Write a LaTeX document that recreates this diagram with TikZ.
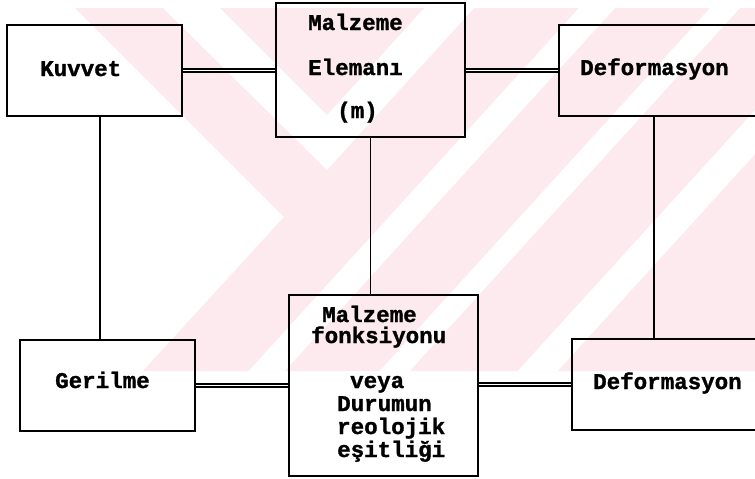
\documentclass[tikz,border=0pt]{standalone}
\usepackage{fontspec}
\newfontfamily\lblfont[UprightFont={* Bold}, FakeBold=1.2]{Liberation Mono}
\definecolor{wm}{RGB}{252,234,238}
\tikzset{
  box/.style={draw, line width=1.7pt, inner sep=0pt},
  lbl/.style={font=\lblfont\fontsize{22.5}{22.5}\selectfont, inner sep=0pt, anchor=base west},
  link/.style={line width=1.3pt},
  dlink/.style={double, double distance=1.8pt, line width=1.4pt},
  wmark/.style={fill=wm, draw=none},
  wgap/.style={fill=white, draw=none},
}
\begin{document}
\begin{tikzpicture}[x=1pt, y=-1pt]
\useasboundingbox (0,0) rectangle (755,479);
\clip (0,0) rectangle (755,479);
\fill[white] (0,0) rectangle (755,479);

% faint background emblem
\fill[wmark] (75,8) -- (755,8) -- (755,371) -- (143,371) -- (284,217) -- cycle;
\begin{scope}
  \clip (75,8) -- (755,8) -- (755,371) -- (143,371) -- (284,217) -- cycle;
  \fill[wgap] (163,8) -- (474,8) -- (327,170) -- cycle;
  \fill[wmark] (220,8) -- (424,8) -- (327,115) -- cycle;
  \foreach \xo/\hw in {597/18, 725/15, 868/20}
    \fill[wgap] ({\xo-\hw},8) -- ({\xo+\hw},8) -- ({\xo+\hw-330.3},371) -- ({\xo-\hw-330.3},371) -- cycle;
\end{scope}

% boxes
\node[box, minimum width=175pt, minimum height=91pt]  (kuv)  at (94.5,70.5)  {};
\node[box, minimum width=189pt, minimum height=134pt] (malz) at (370.5,70)   {};
\node[box, minimum width=241pt, minimum height=91pt]  (defa) at (679.5,70.5) {};
\node[box, minimum width=175pt, minimum height=91pt]  (ger)  at (107.5,385.5) {};
\node[box, minimum width=189pt, minimum height=181pt] (fonk) at (383.5,385.5) {};
\node[box, minimum width=228pt, minimum height=91pt]  (defb) at (686,384.5)  {};

% labels
\node[lbl] (tkuv) at (40,76)  {Kuvvet};
\node[lbl] (tm1)  at (308,30) {Malzeme};
\node[lbl] (tm2)  at (308,75) {Elemanı};
\node[lbl] (tm3)  at (337,118) {(m)};
\node[lbl] (tda)  at (580,75) {Deformasyon};
\node[lbl] (tger) at (55,388) {Gerilme};
\node[lbl] (tf1)  at (322,322) {Malzeme};
\node[lbl] (tf2)  at (311,343) {fonksiyonu};
\node[lbl] (tf3)  at (350,388) {veya};
\node[lbl] (tf4)  at (337,411) {Durumun};
\node[lbl] (tf5)  at (337,434) {reolojik};
\node[lbl] (tf6)  at (337,457) {eşitliği};
\node[lbl] (tdb)  at (593,389) {Deformasyon};

% connectors
\coordinate (vl) at (100,0);
\coordinate (vr) at (654,0);
\draw[dlink] (kuv.east) -- (kuv.east -| malz.west);
\draw[dlink] (malz.east |- defa.west) -- (defa.west);
\draw[dlink] (ger.east) -- (ger.east -| fonk.west);
\draw[dlink] (fonk.east |- defb.west) -- (defb.west);
\draw[link] (kuv.south -| vl) -- (ger.north -| vl);
\draw[link] (malz.south) -- (malz.south |- fonk.north);
\draw[link] (defa.south -| vr) -- (defb.north -| vr);
\end{tikzpicture}
\end{document}
